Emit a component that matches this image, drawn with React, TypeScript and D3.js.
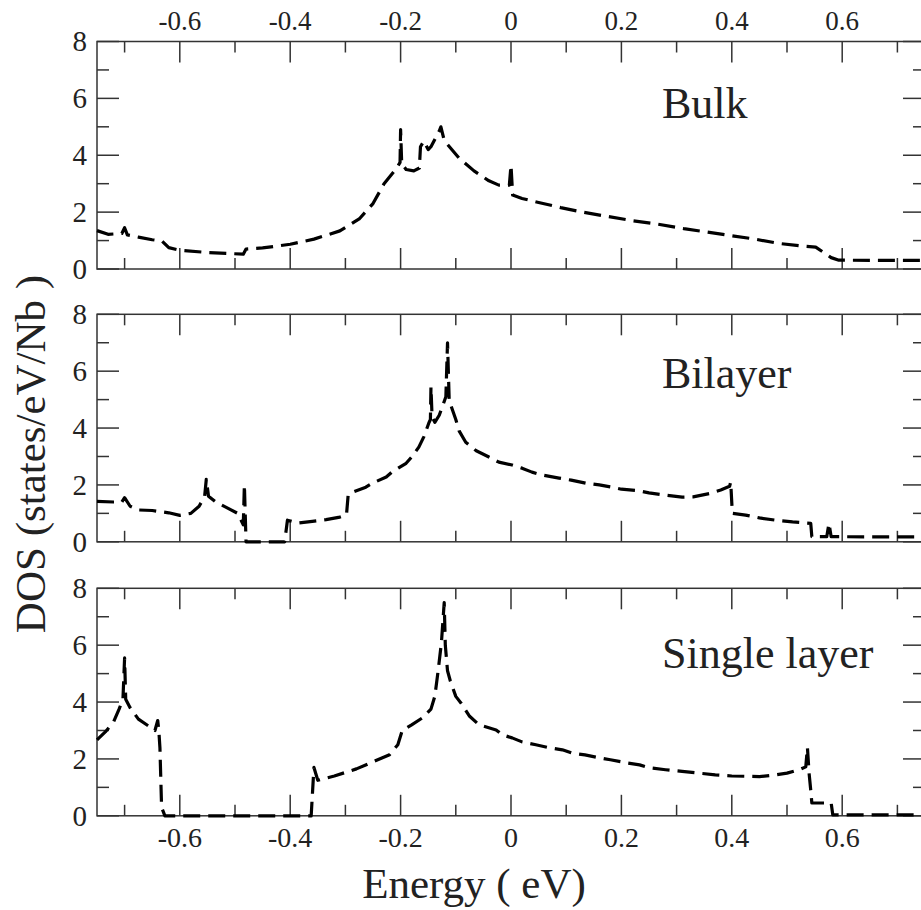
import React from 'react';
import * as d3 from 'd3';

// energy (eV) / DOS (states/eV/Nb)
const bulkEnergy = [-0.75, -0.73, -0.705, -0.7, -0.695, -0.675, -0.65, -0.632, -0.62, -0.6, -0.55, -0.515, -0.485, -0.48, -0.45, -0.4, -0.357, -0.31, -0.275, -0.25, -0.23, -0.207, -0.201, -0.2, -0.198, -0.19, -0.176, -0.166, -0.164, -0.158, -0.15, -0.145, -0.13, -0.127, -0.122, -0.116, -0.094, -0.067, -0.04, -0.022, -0.003, 0.0, 0.003, 0.02, 0.05, 0.09, 0.13, 0.174, 0.22, 0.265, 0.313, 0.355, 0.4, 0.442, 0.485, 0.53, 0.552, 0.58, 0.594, 0.75];
const bulkDos = [1.35, 1.22, 1.25, 1.45, 1.2, 1.12, 1.03, 0.98, 0.75, 0.66, 0.58, 0.55, 0.52, 0.7, 0.74, 0.87, 1.05, 1.34, 1.76, 2.3, 3.0, 3.55, 3.75, 4.9, 3.7, 3.5, 3.45, 3.55, 4.3, 4.5, 4.2, 4.3, 4.85, 5.0, 4.6, 4.4, 3.9, 3.45, 3.1, 2.95, 2.95, 3.65, 2.6, 2.48, 2.34, 2.16, 2.0, 1.85, 1.7, 1.58, 1.42, 1.3, 1.17, 1.05, 0.9, 0.8, 0.77, 0.4, 0.31, 0.3];

const bilayerEnergy = [-0.75, -0.72, -0.705, -0.7, -0.69, -0.675, -0.65, -0.62, -0.6, -0.58, -0.565, -0.555, -0.552, -0.548, -0.535, -0.515, -0.495, -0.485, -0.483, -0.48, -0.41, -0.405, -0.385, -0.36, -0.335, -0.31, -0.298, -0.295, -0.29, -0.263, -0.252, -0.226, -0.216, -0.19, -0.18, -0.167, -0.158, -0.149, -0.146, -0.145, -0.143, -0.138, -0.13, -0.118, -0.115, -0.112, -0.109, -0.1, -0.094, -0.082, -0.063, -0.04, -0.022, 0.002, 0.02, 0.038, 0.056, 0.087, 0.109, 0.136, 0.16, 0.183, 0.2, 0.23, 0.25, 0.28, 0.31, 0.33, 0.36, 0.38, 0.396, 0.398, 0.401, 0.425, 0.45, 0.48, 0.51, 0.543, 0.545, 0.572, 0.576, 0.58, 0.75];
const bilayerDos = [1.42, 1.4, 1.4, 1.55, 1.25, 1.12, 1.1, 1.02, 0.93, 1.0, 1.25, 1.6, 2.2, 1.6, 1.4, 1.2, 1.0, 0.6, 2.0, 0.0, 0.0, 0.76, 0.66, 0.72, 0.78, 0.87, 0.95, 1.65, 1.72, 1.92, 2.05, 2.28, 2.45, 2.76, 2.98, 3.33, 3.69, 4.17, 4.3, 5.45, 4.4, 4.2, 4.45, 5.1, 7.0, 5.0, 4.8, 4.3, 3.9, 3.5, 3.2, 2.98, 2.8, 2.7, 2.59, 2.45, 2.35, 2.24, 2.17, 2.06, 2.0, 1.92, 1.85, 1.8, 1.72, 1.64, 1.57, 1.58, 1.7, 1.82, 1.95, 2.1, 1.0, 0.94, 0.84, 0.76, 0.7, 0.65, 0.18, 0.18, 0.65, 0.18, 0.17];

const singleEnergy = [-0.75, -0.735, -0.72, -0.71, -0.703, -0.7, -0.698, -0.69, -0.675, -0.66, -0.645, -0.64, -0.638, -0.636, -0.633, -0.627, -0.362, -0.357, -0.35, -0.32, -0.28, -0.25, -0.22, -0.205, -0.197, -0.18, -0.16, -0.145, -0.138, -0.132, -0.126, -0.121, -0.119, -0.115, -0.11, -0.1, -0.09, -0.075, -0.058, -0.027, -0.016, 0.002, 0.02, 0.045, 0.07, 0.093, 0.11, 0.134, 0.16, 0.18, 0.21, 0.233, 0.25, 0.28, 0.31, 0.34, 0.37, 0.4, 0.45, 0.48, 0.5, 0.522, 0.534, 0.537, 0.54, 0.543, 0.545, 0.547, 0.58, 0.583, 0.75];
const singleDos = [2.67, 2.95, 3.3, 3.75, 4.1, 5.55, 4.1, 3.8, 3.4, 3.2, 3.0, 3.35, 3.0, 2.4, 0.3, 0.0, 0.0, 1.7, 1.25, 1.4, 1.65, 1.9, 2.15, 2.5, 3.0, 3.2, 3.45, 3.75, 4.2, 5.1, 6.1, 7.5, 6.0, 5.1, 4.75, 4.2, 3.95, 3.5, 3.2, 3.02, 2.85, 2.74, 2.6, 2.5, 2.39, 2.32, 2.21, 2.14, 2.04, 1.97, 1.86, 1.79, 1.69, 1.62, 1.56, 1.5, 1.44, 1.4, 1.38, 1.44, 1.5, 1.62, 1.72, 2.4, 1.5, 0.9, 0.45, 0.45, 0.45, 0.03, 0.03];

const panelNames = ['Bulk', 'Bilayer', 'Single layer'];
const xMajorTicks = [-0.6, -0.4, -0.2, 0, 0.2, 0.4, 0.6];
const xMinorTicks = [-0.7, -0.5, -0.3, -0.1, 0.1, 0.3, 0.5, 0.7];
const yMajorTicks = [0, 2, 4, 6, 8];
const yMinorTicks = [1, 3, 5, 7];

const width = 921;
const height = 910;
const left = 97;
const right = 925;
const panelTops = [41.5, 314.3, 588.3];
const panelHeight = 227.5;
const labelOffsets = [76.5, 74, 80];
const font = 'Tinos';
const axisColor = '#333';
const textColor = '#222';

const x = d3.scaleLinear().domain([-0.75, 0.75]).range([left, right]);

const series = [
  d3.zip(bulkEnergy, bulkDos),
  d3.zip(bilayerEnergy, bilayerDos),
  d3.zip(singleEnergy, singleDos),
] as [number, number][][];

const Label = (props: any) => {
  const { size, children, ...rest } = props;
  return (
    <text {...rest} className="lbl" fill={textColor} fontFamily={font} fontSize={size}
      style={{ fontFamily: font, fontSize: size }}>
      {children}
    </text>
  );
};

const Panel = ({ index }: { index: number }) => {
  const top = panelTops[index];
  const bottom = top + panelHeight;
  const y = d3.scaleLinear().domain([0, 8]).range([bottom, top]);
  const line = d3.line<[number, number]>().x(d => x(d[0])).y(d => y(d[1]));

  const xTicks = [
    ...xMajorTicks.map(v => ({ v, len: 21 })),
    ...xMinorTicks.map(v => ({ v, len: 11 })),
  ];
  const yTicks = [
    ...yMajorTicks.map(v => ({ v, len: 22 })),
    ...yMinorTicks.map(v => ({ v, len: 12 })),
  ];

  return (
    <g>
      <g stroke={axisColor} strokeWidth={1.5}>
        <rect x={left} y={top} width={right - left} height={panelHeight} fill="none" />
        {xTicks.map(t => (
          <g key={'x' + t.v}>
            <line x1={x(t.v)} x2={x(t.v)} y1={bottom} y2={bottom - t.len} />
            <line x1={x(t.v)} x2={x(t.v)} y1={top} y2={top + t.len} />
          </g>
        ))}
        {yTicks.map(t => (
          <g key={'y' + t.v}>
            <line x1={left} x2={left + t.len} y1={y(t.v)} y2={y(t.v)} />
            <line x1={right} x2={right - t.len} y1={y(t.v)} y2={y(t.v)} />
          </g>
        ))}
      </g>

      {yMajorTicks.map(v => (
        <Label key={'yl' + v} x={left - 10} y={y(v)} dy="0.34em" textAnchor="end" size={29}>
          {String(v)}
        </Label>
      ))}

      {index === 0 && xMajorTicks.map(v => (
        <Label key={'xt' + v} x={x(v)} y={top - 12} textAnchor="middle" size={27}>
          {String(v)}
        </Label>
      ))}

      {index === 2 && xMajorTicks.map(v => (
        <Label key={'xb' + v} x={x(v)} y={bottom + 31} textAnchor="middle" size={28}>
          {String(v)}
        </Label>
      ))}

      <path d={line(series[index]) || ''} fill="none" stroke="#000" strokeWidth={3.2}
        strokeDasharray="17,8" strokeLinejoin="round" />

      <Label x={662} y={top + labelOffsets[index]} size={44}>
        {panelNames[index]}
      </Label>
    </g>
  );
};

const App = () => (
  <svg width={width} height={height}
    style={{ position: 'absolute', left: 0, top: 0, background: '#fff' }}>
    <style>{`.lbl { font-family: 'Tinos', 'Liberation Serif', 'Nimbus Roman', 'FreeSerif', serif !important; }`}</style>
    {panelTops.map((_, i) => <Panel key={i} index={i} />)}
    <Label x={474} y={898} textAnchor="middle" size={43}>
      Energy ( eV)
    </Label>
    <Label transform="translate(45,454) rotate(-90)" textAnchor="middle" size={43}>
      DOS (states/eV/Nb )
    </Label>
  </svg>
);

export default App;
